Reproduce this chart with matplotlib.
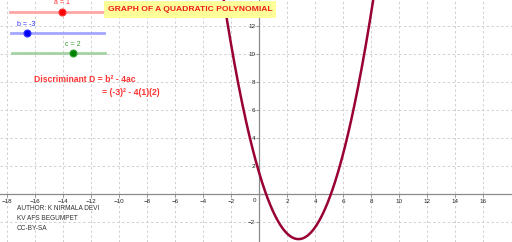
import numpy as np
import matplotlib
matplotlib.use("Agg")
import matplotlib.pyplot as plt
from matplotlib.patches import Rectangle
from matplotlib.lines import Line2D

plt.rcParams["font.family"] = ["Liberation Sans", "DejaVu Sans"]

# --------------------------------------------------------------------------
# Data
# --------------------------------------------------------------------------
# plotted parabola y = p0 x^2 + p1 x + p2 (as drawn)
curve_coeffs = [0.6, -3.36, 1.5]
x_range = (-18.52, 18.05)
y_range = (-3.41, 13.88)
x_ticks = list(range(-18, 18, 2))
y_ticks = [-2, 2, 4, 6, 8, 10, 12]

slider_names = ["a", "b", "c"]
slider_values = [1, -3, 2]

title_text = "GRAPH OF A QUADRATIC POLYNOMIAL"
disc_lines = ["Discriminant D = b² - 4ac", "= (-3)² - 4(1)(2)"]
credit_lines = ["AUTHOR: K NIRMALA DEVI", "KV AFS BEGUMPET", "CC-BY-SA"]

W, H = 512, 242


def fx(px):
    return px / W


def fy(py):
    return 1 - py / H


fig = plt.figure(figsize=(W / 100, H / 100), dpi=100)
ax = fig.add_axes([0, 0, 1, 1])
ax.set_xlim(*x_range)
ax.set_ylim(*y_range)

# grid
for xv in x_ticks:
    if xv != 0:
        ax.axvline(xv, color="#d0d0d0", lw=0.7, ls=(0, (2.5, 2.5)), zorder=0)
for yv in y_ticks:
    ax.axhline(yv, color="#d0d0d0", lw=0.7, ls=(0, (2.5, 2.5)), zorder=0)

# axes through origin
for s in ["top", "right"]:
    ax.spines[s].set_visible(False)
ax.spines["left"].set_position(("data", 0))
ax.spines["bottom"].set_position(("data", 0))
ax.spines["left"].set_color("#8a8a8a")
ax.spines["bottom"].set_color("#8a8a8a")
ax.spines["left"].set_linewidth(0.9)
ax.spines["bottom"].set_linewidth(0.9)
ax.set_xticks([t for t in x_ticks if t != 0])
ax.set_yticks(y_ticks)
ax.tick_params(axis="both", length=2, width=0.6, color="#8a8a8a",
               labelsize=4.5, labelcolor="#222222")
ax.tick_params(axis="x", pad=1.5)
ax.tick_params(axis="y", pad=1.0)
ax.text(-0.35, -0.25, "0", fontsize=4.5, color="#222222",
        ha="center", va="top")

# the curve
xs = np.linspace(x_range[0], x_range[1], 800)
ax.plot(xs, np.polyval(curve_coeffs, xs), color="#990033", lw=1.8,
        zorder=5, clip_on=True)

# sliders (GeoGebra widgets, fixed on screen)
slider_rows = [11.5, 33, 53]
slider_x0 = [10, 11, 12]
slider_x1 = [103, 104, 105]
slider_knob = [61.5, 26.5, 72.5]
line_colors = ["#ff9c9c", "#9c9cff", "#9ccf9c"]
knob_colors = ["#ff0000", "#0000ff", "#008000"]
label_colors = ["#ff3030", "#3030ff", "#30a030"]
for i, name in enumerate(slider_names):
    yrow = fy(slider_rows[i])
    fig.add_artist(Line2D([fx(slider_x0[i]), fx(slider_x1[i])], [yrow, yrow],
                          color=line_colors[i], lw=2.0, alpha=0.9,
                          transform=fig.transFigure))
    fig.add_artist(Line2D([fx(slider_knob[i])], [yrow], marker="o",
                          markersize=5.0, markerfacecolor=knob_colors[i],
                          markeredgecolor=label_colors[i], markeredgewidth=0.8,
                          alpha=1.0, transform=fig.transFigure))
    fig.text(fx(slider_knob[i]), fy(slider_rows[i] - 8.5),
             f"{name} = {slider_values[i]}", fontsize=5.0,
             color=label_colors[i], ha="center", va="center")

# title box
fig.add_artist(Rectangle((fx(104), fy(17.5)), fx(276) - fx(104),
                         fy(1) - fy(17.5), facecolor="#ffff99",
                         edgecolor="none", transform=fig.transFigure,
                         zorder=6))
fig.text(fx(190), fy(9.5), title_text, fontsize=6.1, fontweight="bold",
         color="#ee1c1c", ha="center", va="center", zorder=7)

# discriminant
fig.text(fx(34), fy(80), disc_lines[0], fontsize=6.2, fontweight="bold",
         color="#ff3333", ha="left", va="center")
fig.text(fx(102), fy(92.5), disc_lines[1], fontsize=6.2, fontweight="bold",
         color="#ff3333", ha="left", va="center")

# credits
for i, line in enumerate(credit_lines):
    fig.text(fx(17), fy(209 + 10 * i), line, fontsize=4.7,
             color="#333333", ha="left", va="center")

fig.savefig("out.png", dpi=100)
